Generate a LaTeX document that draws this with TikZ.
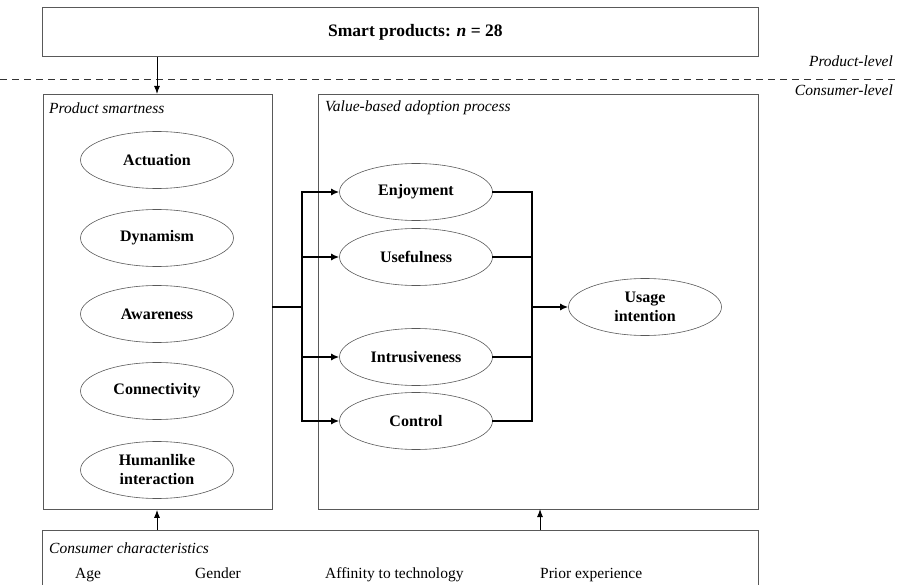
\documentclass[tikz,border=0pt]{standalone}
\usepackage{fontspec}
\setmainfont{Liberation Serif}
\usepackage{tikz}
\usetikzlibrary{arrows.meta,positioning,shapes.geometric,calc}

\begin{document}
\begin{tikzpicture}[
    x=1pt, y=-1pt,
    font=\fontsize{15.5}{17}\selectfont,
    frame/.style={draw=black!65, line width=0.8pt, inner sep=0pt, anchor=north west},
    construct/.style={ellipse, draw=black!65, line width=0.6pt, minimum width=153pt, minimum height=57pt, inner sep=0pt, align=center, font=\fontsize{16}{19}\selectfont\bfseries},
    head/.style={font=\fontsize{15.5}{17}\selectfont\itshape, anchor=west, inner sep=0pt},
    item/.style={anchor=base west, inner sep=0pt},
    level/.style={font=\fontsize{15.5}{17}\selectfont\itshape, anchor=east, inner sep=0pt},
    link/.style={line width=1.8pt, line cap=rect},
    arr/.style={-{Latex[length=8pt,width=6pt]}, line width=1pt},
    barr/.style={-{Latex[length=8pt,width=7pt]}, line width=1.8pt}
]
\useasboundingbox (0,0) rectangle (897,585);

% Frames
\node[frame, minimum width=716pt, minimum height=49pt] (products) at (42,7) {};
\node[font=\fontsize{17.5}{20}\selectfont\bfseries] (title) at ($(products.center)+(15,0)$) {Smart products: \textit{n} = 28};
\node[frame, minimum width=229pt, minimum height=415pt] (smartbox) at (43,94) {};
\node[frame, minimum width=440pt, minimum height=415pt] (valuebox) at (318,94) {};
\node[frame, minimum width=716pt, minimum height=70pt] (consumerbox) at (42,530) {};

% Level divider
\coordinate (divL) at (0,79);
\coordinate (divR) at (897,79);
\draw[black!80, line width=0.9pt, dash pattern=on 7pt off 5pt] (divL) -- (divR);
\node[level] (prodlevel) at (893,61) {Product-level};
\node[level] (conslevel) at (893,90) {Consumer-level};

% Headings
\node[head] (smarthead) at (49,108) {Product smartness};
\node[head] (valuehead) at (325,108) {Value-based adoption process};
\node[head] (conshead) at (49,548) {Consumer characteristics};

% Smartness dimensions
\node[construct] (actuation) at (157,160) {Actuation};
\node[construct] (dynamism) at (157,238) {Dynamism};
\node[construct] (awareness) at (157,314) {Awareness};
\node[construct] (connectivity) at (157,391) {Connectivity};
\node[construct] (humanlike) at (157,470) {Humanlike\\interaction};

% Adoption constructs
\node[construct] (enjoy) at (416,192) {Enjoyment};
\node[construct] (useful) at (416,257) {Usefulness};
\node[construct] (intrusive) at (416,357) {Intrusiveness};
\node[construct] (control) at (416,421) {Control};
\node[construct] (usage) at (645,307) {Usage\\intention};

% Consumer characteristics
\node[item] (age) at (75,578) {Age};
\node[item] (gender) at (195,578) {Gender};
\node[item] (affinity) at (325,578) {Affinity to technology};
\node[item] (prior) at (540,578) {Prior experience};

% Connectors
\coordinate (split) at (302,307);
\coordinate (merge) at (532,307);
\draw[link] (smartbox.east |- split) -- (split);
\draw[link] (split |- enjoy) -- (split |- control);
\foreach \v in {enjoy,useful,intrusive,control}
  \draw[barr] (split |- \v) -- (\v.west);
\foreach \v in {enjoy,useful,intrusive,control}
  \draw[link] (\v.east) -- (merge |- \v);
\draw[link] (merge |- enjoy) -- (merge |- control);
\draw[barr] (merge) -- (usage.west);

\draw[arr] (products.south -| actuation) -- (smartbox.north -| actuation);
\draw[arr] (consumerbox.north -| actuation) -- (smartbox.south -| actuation);
\coordinate (valuein) at (540,509);
\draw[arr] (consumerbox.north -| valuein) -- (valuein);
\end{tikzpicture}
\end{document}
